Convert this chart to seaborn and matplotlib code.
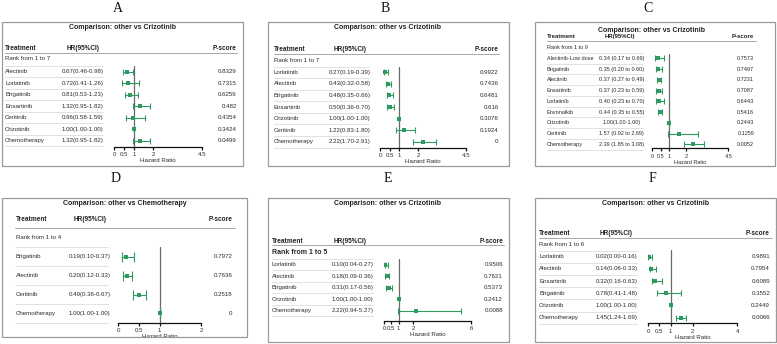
import numpy as np
import pandas as pd
import matplotlib
matplotlib.use("Agg")
import matplotlib.pyplot as plt
import matplotlib.transforms as mtransforms
from matplotlib.lines import Line2D
from matplotlib.patches import Rectangle
import seaborn as sns

# ---------------- data ----------------
names_A = ["Alectinib", "Lorlatinib", "Brigatinib", "Ensartinib", "Ceritinib", "Crizotinib", "Chemotherapy"]
hr_A = [0.67, 0.72, 0.81, 1.32, 0.96, 1.00, 1.32]
lo_A = [0.46, 0.41, 0.53, 0.95, 0.58, 1.00, 0.95]
hi_A = [0.98, 1.26, 1.23, 1.82, 1.59, 1.00, 1.82]
p_A = ["0.8329", "0.7315", "0.6259", "0.482", "0.4354", "0.3424", "0.0499"]

names_B = ["Lorlatinib", "Alectinib", "Brigatinib", "Ensartinib", "Crizotinib", "Ceritinib", "Chemotherapy"]
hr_B = [0.27, 0.43, 0.48, 0.50, 1.00, 1.22, 2.22]
lo_B = [0.19, 0.32, 0.35, 0.36, 1.00, 0.83, 1.70]
hi_B = [0.39, 0.58, 0.66, 0.70, 1.00, 1.80, 2.91]
p_B = ["0.9922", "0.7436", "0.6481", "0.616", "0.3076", "0.1924", "0"]

names_C = ["Alectinib-Low dose", "Brigatinib", "Alectinib", "Ensartinib", "Lorlatinib",
           "Envonalkib", "Crizotinib", "Ceritinib", "Chemotherapy"]
hr_C = [0.34, 0.35, 0.37, 0.37, 0.40, 0.44, 1.00, 1.57, 2.39]
lo_C = [0.17, 0.20, 0.27, 0.23, 0.23, 0.35, 1.00, 0.92, 1.85]
hi_C = [0.69, 0.60, 0.49, 0.59, 0.70, 0.55, 1.00, 2.69, 3.08]
p_C = ["0.7573", "0.7497", "0.7231", "0.7087", "0.6443", "0.5416", "0.2443", "0.1259", "0.0052"]

names_D = ["Brigatinib", "Alectinib", "Ceritinib", "Chemotherapy"]
hr_D = [0.19, 0.20, 0.49, 1.00]
lo_D = [0.10, 0.12, 0.36, 1.00]
hi_D = [0.37, 0.33, 0.67, 1.00]
p_D = ["0.7972", "0.7636", "0.2518", "0"]

names_E = ["Lorlatinib", "Alectinib", "Brigatinib", "Crizotinib", "Chemotherapy"]
hr_E = [0.10, 0.18, 0.31, 1.00, 2.22]
lo_E = [0.04, 0.09, 0.17, 1.00, 0.94]
hi_E = [0.27, 0.36, 0.56, 1.00, 5.27]
p_E = ["0.9506", "0.7621", "0.5373", "0.2412", "0.0088"]

names_F = ["Lorlatinib", "Alectinib", "Ensartinib", "Brigatinib", "Crizotinib", "Chemotherapy"]
hr_F = [0.02, 0.14, 0.32, 0.78, 1.00, 1.45]
lo_F = [0.00, 0.06, 0.16, 0.41, 1.00, 1.24]
hi_F = [0.16, 0.33, 0.63, 1.48, 1.00, 1.69]
p_F = ["0.9891", "0.7954", "0.6089", "0.3552", "0.2449", "0.0066"]

ticks_A = [0, 0.5, 1, 2, 4.5]
ticks_B = [0, 0.5, 1, 2, 4.5]
ticks_C = [0, 0.5, 1, 2, 4.5]
ticks_D = [0, 0.5, 1, 2]
ticks_E = [0, 0.5, 1, 2, 6]
ticks_F = [0, 0.5, 1, 2, 4]

titles = {"A": "Comparison: other vs Crizotinib", "B": "Comparison: other vs Crizotinib",
          "C": "Comparison: other vs Crizotinib", "D": "Comparison: other vs Chemotherapy",
          "E": "Comparison: other vs Crizotinib", "F": "Comparison: other vs Crizotinib"}
rank_labels = {"A": "Rank from 1 to 7", "B": "Rank from 1 to 7", "C": "Rank from 1 to 9",
               "D": "Rank from 1 to 4", "E": "Rank from 1 to 5", "F": "Rank from 1 to 6"}


def hr_text(h, l, u, style):
    if style == "to" and not (h == l == u):
        return f"{h:.2f} ({l:.2f} to {u:.2f})"
    return f"{h:.2f}({l:.2f}-{u:.2f})"


# ---------------- style ----------------
sns.set_style("white")
plt.rcParams['font.family'] = ['Liberation Sans', 'DejaVu Sans']

W, H = 777, 344
fig = plt.figure(figsize=(W / 100, H / 100), dpi=100)


def fx(px):
    return px / W


def fy(py):
    return 1 - py / H


GREEN = "#2f9a60"
TXT = "#2b2b2b"

# layout (pixels)
layout = {
    "A": dict(letter=(118, 8), box=(2, 22, 243, 166), title=(122, 27.5), head_y=48, under=(53, 5, 237),
              rank_y=59, y0=71.7, dy=11.5, tx=5, hx=61.7, hhx=66.7, hstyle="dash", px=236.7,
              ax=(114.3, 202.3, 65.7, 146.7), xmax=4.5, sep=(5, 103), fs=4.4, ms=6, cap=2.4),
    "B": dict(letter=(385, 8), box=(268, 22, 509, 166), title=(388, 27.5), head_y=49.3, under=(54, 274, 499),
              rank_y=60, y0=72.3, dy=11.57, tx=274, hx=329, hhx=334, hstyle="dash", px=498.5,
              ax=(380.3, 466, 66.5, 147.7), xmax=4.5, sep=(274, 369), fs=4.4, ms=6, cap=2.4),
    "C": dict(letter=(648, 8), box=(535, 22, 775, 166), title=(651.7, 30.7), head_y=36.9, under=(40.7, 546.7, 756),
              rank_y=47.3, y0=58.3, dy=10.75, tx=546.7, hx=621.7, hhx=605, hstyle="to", px=754,
              ax=(652.3, 728.3, 53.5, 148.3), xmax=4.5, sep=(546.7, 643), fs=4.0, ms=5, cap=2.2),
    "D": dict(letter=(116, 178), box=(2, 197.7, 247, 336.7), title=(125, 203.3), head_y=219.3, under=(228.3, 15, 235),
              rank_y=237.7, y0=256.7, dy=18.9, tx=16, hx=68.3, hhx=73.3, hstyle="dash", px=232.3,
              ax=(118.3, 201, 246.7, 322.7), xmax=2, sep=(15, 108), fs=4.4, ms=11, cap=3.6),
    "E": dict(letter=(388, 178), box=(268, 197.7, 508.7, 341.7), title=(388, 203.3), head_y=241.5, under=(245, 272, 504),
              rank_y=252.5, y0=264.6, dy=11.5, tx=272, hx=332, hhx=334, hstyle="dash", px=503,
              ax=(384, 471.3, 258.8, 320.7), xmax=6, sep=(272, 373), fs=4.4, ms=5, cap=2.4),
    "F": dict(letter=(652, 178), box=(535, 197.7, 776.3, 341.7), title=(655, 203.3), head_y=233.3, under=(238.3, 539, 772),
              rank_y=245, y0=256.7, dy=12.2, tx=539, hx=596, hhx=600, hstyle="dash", px=770,
              ax=(648.3, 737.3, 250.5, 323.3), xmax=4, sep=(539, 637), fs=4.4, ms=5, cap=2.4),
}

data = {
    "A": (names_A, hr_A, lo_A, hi_A, p_A, ticks_A),
    "B": (names_B, hr_B, lo_B, hi_B, p_B, ticks_B),
    "C": (names_C, hr_C, lo_C, hi_C, p_C, ticks_C),
    "D": (names_D, hr_D, lo_D, hi_D, p_D, ticks_D),
    "E": (names_E, hr_E, lo_E, hi_E, p_E, ticks_E),
    "F": (names_F, hr_F, lo_F, hi_F, p_F, ticks_F),
}

for key in ["A", "B", "C", "D", "E", "F"]:
    g = layout[key]
    names, hr, lo, hi, pv, ticks = data[key]
    n = len(names)
    fs = g["fs"]

    # panel letter
    fig.text(fx(g["letter"][0]), fy(g["letter"][1]), key, ha="center", va="center",
             fontsize=10, family=["Liberation Serif", "DejaVu Serif"], color="#111")

    # frame
    x0, y0b, x1, y1b = g["box"]
    fig.patches.append(Rectangle((fx(x0), fy(y1b)), fx(x1) - fx(x0), fy(y0b) - fy(y1b),
                                 transform=fig.transFigure, fill=False, ec="#9a9a9a", lw=0.9))

    # title
    fig.text(fx(g["title"][0]), fy(g["title"][1]), titles[key], ha="center", va="center",
             fontsize=5.0, fontweight="bold", color="#222")

    # headers
    fig.text(fx(g["tx"]), fy(g["head_y"]), "Treatment", ha="left", va="center", fontsize=fs + 0.3,
             fontweight="bold", color="#222")
    fig.text(fx(g["hhx"]), fy(g["head_y"]), "HR(95%CI)", ha="left", va="center", fontsize=fs + 0.3,
             fontweight="bold", color="#222")
    fig.text(fx(g["px"]), fy(g["head_y"]), "P-score", ha="right", va="center", fontsize=fs + 0.3,
             fontweight="bold", color="#222")
    uy, ux0, ux1 = g["under"]
    fig.lines.append(Line2D([fx(ux0), fx(ux1)], [fy(uy), fy(uy)], transform=fig.transFigure,
                            color="#9a9a9a", lw=0.6))
    fig.text(fx(g["tx"]), fy(g["rank_y"]), rank_labels[key], ha="left", va="center",
             fontsize=(fs + 0.6) if key == "E" else fs,
             fontweight="bold" if key == "E" else "normal", color=TXT)

    # forest axes
    axl, axr, axt, axb = g["ax"]
    ax = fig.add_axes([fx(axl), fy(axb), fx(axr) - fx(axl), fy(axt) - fy(axb)])
    ax.set_facecolor("none")
    ax.set_xlim(0, g["xmax"])
    ax.set_ylim((axb - g["y0"]) / g["dy"], (axt - g["y0"]) / g["dy"])

    df = pd.DataFrame({"name": names, "hr": hr, "lo": lo, "hi": hi, "row": np.arange(n)})
    ax.axvline(1, color="#6a6a6a", lw=0.9, zorder=1)
    ax.errorbar(df["hr"], df["row"], xerr=[df["hr"] - df["lo"], df["hi"] - df["hr"]],
                fmt="none", ecolor=GREEN, elinewidth=0.8, capsize=g["cap"], capthick=0.8, zorder=2)
    sns.scatterplot(data=df, x="hr", y="row", marker="s", s=g["ms"], color=GREEN,
                    linewidth=0, ax=ax, zorder=3, legend=False)

    for s in ["top", "left", "right"]:
        ax.spines[s].set_visible(False)
    ax.spines["bottom"].set_color("#111")
    ax.spines["bottom"].set_linewidth(0.9)
    ax.set_yticks([])
    ax.set_ylabel("")
    ax.set_xticks(ticks)
    ax.set_xticklabels([f"{t:g}" for t in ticks])
    ax.tick_params(axis="x", direction="out", length=2.5, width=0.9, color="#111",
                   labelsize=fs, pad=1.5, labelcolor=TXT, bottom=True)
    ax.set_xlabel("Hazard Ratio", fontsize=fs, labelpad=0.5, color=TXT)

    # table text aligned to rows through the axes' data transform
    tr = mtransforms.blended_transform_factory(fig.transFigure, ax.transData)
    for i in range(n):
        ax.text(fx(g["tx"]), i, names[i], transform=tr, ha="left", va="center", fontsize=fs, color=TXT,
                clip_on=False)
        lab = hr_text(hr[i], lo[i], hi[i], g["hstyle"])
        if g["hstyle"] == "to":
            ax.text(fx(g["hx"]), i, lab, transform=tr, ha="center", va="center", fontsize=fs, color=TXT,
                    clip_on=False)
        else:
            ax.text(fx(g["hx"]), i, lab, transform=tr, ha="left", va="center", fontsize=fs, color=TXT,
                    clip_on=False)
        ax.text(fx(g["px"]), i, pv[i], transform=tr, ha="right", va="center", fontsize=fs, color=TXT,
                clip_on=False)
    sx0, sx1 = g["sep"]
    for i in range(n + 1):
        ax.add_line(Line2D([fx(sx0), fx(sx1)], [i - 0.5, i - 0.5], transform=tr, color="#d4d4d4",
                           lw=0.5, clip_on=False))

fig.savefig("out.png", dpi=100)
